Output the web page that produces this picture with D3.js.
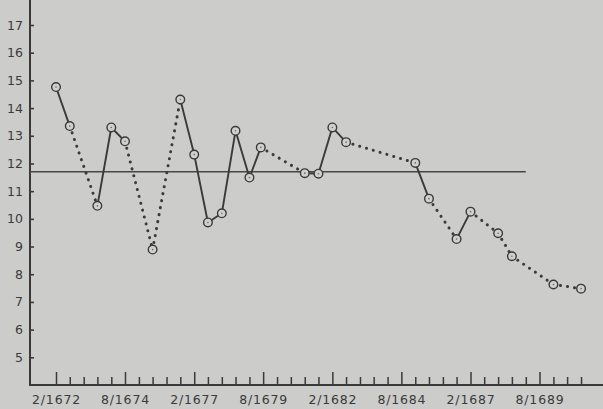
<!DOCTYPE html>
<html>
<head>
<meta charset="utf-8">
<script src="https://cdn.jsdelivr.net/npm/d3@7"></script>
<style>
  html, body { margin: 0; padding: 0; background: #cccccb; }
  svg { display: block; }
  text { font-family: "DejaVu Sans", sans-serif; fill: #3a3a3a; }
</style>
</head>
<body>
<div id="chart"></div>
<script>
const dates = ["1672-02", "1672-08", "1673-08", "1674-02", "1674-08", "1675-08", "1676-08",
  "1677-02", "1677-08", "1678-02", "1678-08", "1679-02", "1679-07", "1681-02", "1681-08",
  "1682-02", "1682-08", "1685-02", "1685-08", "1686-08", "1687-02", "1688-02", "1688-08",
  "1690-02", "1691-02"];
const values = [14.76, 13.35, 10.47, 13.3, 12.8, 8.89, 14.31,
  12.32, 9.87, 10.2, 13.18, 11.49, 12.58, 11.65, 11.63,
  13.3, 12.77, 12.02, 10.73, 9.27, 10.26, 9.48, 8.65,
  7.63, 7.48];
// joining segment i -> i+1: s = solid, d = dotted
const segStyle = ["s", "d", "s", "s", "d", "d", "s", "s", "s", "s", "s", "s",
  "d", "s", "s", "s", "d", "s", "d", "s", "d", "d", "d", "d"];
const yTicks = [5, 6, 7, 8, 9, 10, 11, 12, 13, 14, 15, 16, 17];
const tickStart = "1672-02";
const tickEnd = "1691-02";
const refValue = 11.7;
const refEnd = "1689-02";

const W = 603, H = 409;
const ink = "#3a3a3a";
const parse = d3.timeParse("%Y-%m");

const svg = d3.select("#chart").append("svg")
  .attr("width", W)
  .attr("height", H);

svg.append("rect")
  .attr("width", W)
  .attr("height", H)
  .attr("fill", "#cccccb");

const x = d3.scaleTime()
  .domain([parse("1672-02"), parse("1689-08")])
  .range([56, 539.5]);

const y = d3.scaleLinear()
  .domain([4, 17])
  .range([385, 25]);

const data = dates.map((d, i) => ({ date: parse(d), value: values[i] }));

// y axis
const yAxis = svg.append("g")
  .attr("transform", "translate(30,0)")
  .call(d3.axisLeft(y).tickValues(yTicks).tickSizeInner(-4).tickSizeOuter(0).tickPadding(7));
yAxis.select(".domain").remove();
yAxis.selectAll(".tick line").attr("stroke", ink).attr("stroke-width", 1.6);
yAxis.selectAll(".tick text").attr("font-size", 12.5).attr("fill", ink);
svg.append("line")
  .attr("x1", 30).attr("x2", 30)
  .attr("y1", y(4) + 1).attr("y2", 0)
  .attr("stroke", ink).attr("stroke-width", 2);

// x axis, ticks every six months, labelled every 2.5 years
const xTicks = d3.timeMonth.range(parse(tickStart), d3.timeMonth.offset(parse(tickEnd), 1), 6);
const fmt = d => (d.getMonth() + 1) + "/" + d.getFullYear();
const xAxis = svg.append("g")
  .attr("transform", `translate(0,${y(4)})`)
  .call(d3.axisBottom(x).tickValues(xTicks).tickSizeInner(-8).tickSizeOuter(0).tickPadding(10)
    .tickFormat((d, i) => i % 5 === 0 ? fmt(d) : ""));
xAxis.select(".domain").remove();
xAxis.selectAll(".tick line")
  .attr("stroke", ink)
  .attr("stroke-width", 1.5)
  .attr("y2", (d, i) => i % 5 === 0 ? -13 : -8);
xAxis.selectAll(".tick text")
  .attr("font-size", 12.5)
  .attr("letter-spacing", 0.8)
  .attr("fill", ink);
svg.append("line")
  .attr("x1", 29).attr("x2", W)
  .attr("y1", y(4)).attr("y2", y(4))
  .attr("stroke", ink).attr("stroke-width", 2);

// reference level
svg.append("line")
  .attr("x1", 30).attr("x2", x(parse(refEnd)))
  .attr("y1", y(refValue)).attr("y2", y(refValue))
  .attr("stroke", "#474747").attr("stroke-width", 1.4);

// connecting segments
const segs = segStyle.map((s, i) => ({ a: data[i], b: data[i + 1], style: s }));
svg.append("g")
  .selectAll("line")
  .data(segs)
  .enter()
  .append("line")
  .attr("x1", d => x(d.a.date))
  .attr("y1", d => y(d.a.value))
  .attr("x2", d => x(d.b.date))
  .attr("y2", d => y(d.b.value))
  .attr("stroke", ink)
  .attr("stroke-width", d => d.style === "s" ? 1.9 : 3)
  .attr("stroke-linecap", "round")
  .attr("stroke-dasharray", d => d.style === "s" ? null : "0.1 7");

// markers
const pts = svg.append("g")
  .selectAll("g")
  .data(data)
  .enter()
  .append("g")
  .attr("transform", d => `translate(${x(d.date)},${y(d.value)})`);
pts.append("circle")
  .attr("r", 4.3)
  .attr("fill", "#d0d0ce")
  .attr("stroke", ink)
  .attr("stroke-width", 1.4);
pts.append("circle")
  .attr("r", 0.8)
  .attr("fill", "#666");
</script>
</body>
</html>
